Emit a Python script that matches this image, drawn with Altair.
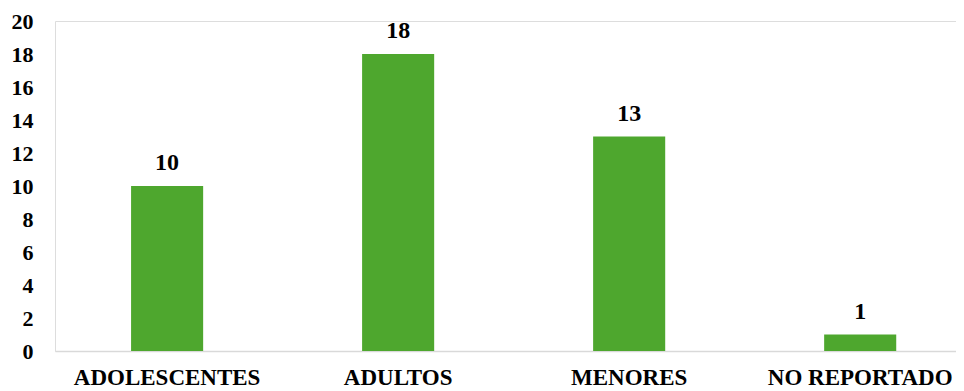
import altair as alt
import pandas as pd

categories = ["ADOLESCENTES", "ADULTOS", "MENORES", "NO REPORTADO"]
values = [10, 18, 13, 1]
y_ticks = [0, 2, 4, 6, 8, 10, 12, 14, 16, 18, 20]

df = pd.DataFrame({"cat": categories, "val": values})

FONT = "Liberation Serif"

x = alt.X(
    "cat:N",
    sort=categories,
    title=None,
    scale=alt.Scale(paddingInner=0.688, paddingOuter=0.294, align=0.56),
    axis=alt.Axis(
        labelAngle=0,
        labelFont=FONT,
        labelFontSize=23,
        labelFontWeight="bold",
        labelColor="black",
        labelPadding=15,
        labelOverlap=False,
        labelFlush=False,
        labelLimit=500,
        tickSize=0,
        domainColor="#d9d9d9",
        domainWidth=1.5,
        grid=False,
    ),
)
y = alt.Y(
    "val:Q",
    title=None,
    scale=alt.Scale(domain=[0, 20], nice=False),
    axis=alt.Axis(
        values=y_ticks,
        labelFont=FONT,
        labelFontSize=22,
        labelFontWeight="bold",
        labelColor="black",
        labelPadding=22,
        labelOverlap=False,
        labelFlush=False,
        labelBaseline="middle",
        tickSize=0,
        domain=False,
        grid=False,
    ),
)

base = alt.Chart(df).encode(x=x, y=y)
bars = base.mark_bar(color="#4EA72E")
labels = base.mark_text(
    font=FONT, fontSize=24, fontWeight="bold", color="black",
    baseline="alphabetic", dy=-16,
).encode(text="val:Q")

chart = (
    alt.layer(bars, labels)
    .properties(
        width=901,
        height=330,
        autosize=alt.AutoSizeParams(type="none"),
        padding={"left": 47, "top": 13, "right": 0, "bottom": 40},
    )
    .configure_view(strokeWidth=0, stroke="transparent")
    .configure(background="white")
)

chart.save("out.html", embed_options={"renderer": "svg", "actions": False})
